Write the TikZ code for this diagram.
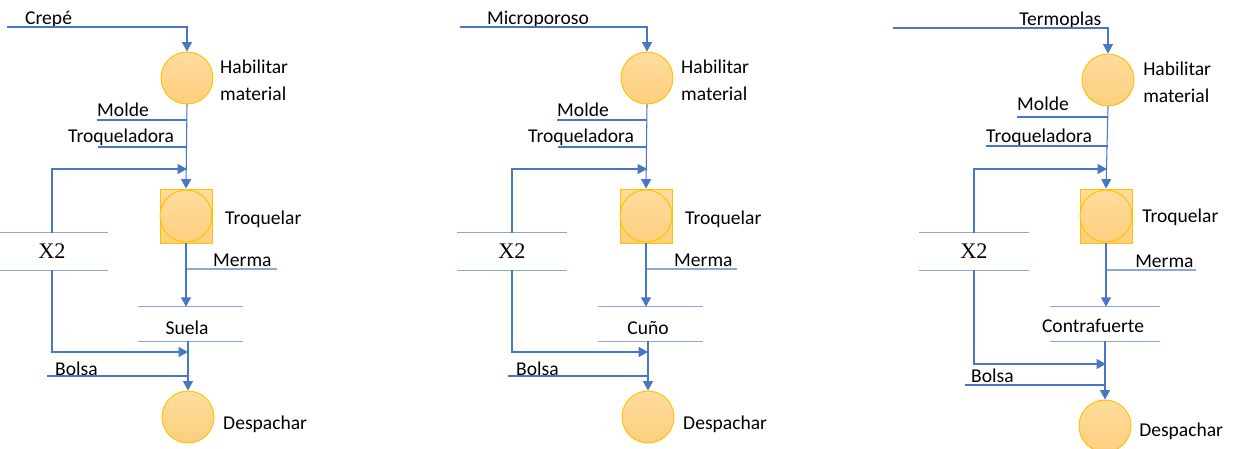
\documentclass[tikz,border=0pt]{standalone}
\usepackage{fontspec}
\setmainfont{Carlito}
\newfontfamily\serifx{Liberation Serif}
\usepackage{tikz}
\usetikzlibrary{arrows.meta,positioning}
\usepackage{xcolor}
\definecolor{flowblue}{HTML}{4A76C6}
\definecolor{barblue}{HTML}{8CA8DA}
\definecolor{opgold}{HTML}{FFC000}
\definecolor{optop}{HTML}{FFDC9C}
\definecolor{opbot}{HTML}{FDCF7F}

\begin{document}
\begin{tikzpicture}[x=0.03cm,y=-0.03cm,
        op/.style={circle,draw=opgold,thick,top color=optop,bottom color=opbot,minimum size=1.56cm,inner sep=0pt},
        opsq/.style={rectangle,draw=opgold,thick,top color=optop,bottom color=opbot,minimum width=1.56cm,minimum height=1.62cm,inner sep=0pt},
        lbl/.style={font=\fontsize{16.7}{23}\selectfont,inner sep=0pt,align=left},
        mult/.style={font=\serifx\fontsize{19}{22}\selectfont,inner sep=0pt,minimum height=1.11cm},
        prod/.style={inner sep=0pt,minimum height=1.02cm},
        flow/.style={draw=flowblue,line width=0.9pt},
        bar/.style={draw=barblue,line width=0.9pt},
        arrow/.style={flow,-{Triangle[width=8.5pt,length=8pt]}}
    ]
    \useasboundingbox (0,0) rectangle (1238,448);

    % --- Crepe -> Suela
    \coordinate (in1) at (7,27);
    \node[lbl,anchor=base west] (in1txt) at (25,24) {Crepé};
    \node[op] (hab1) at (187,78) {};
    \node[lbl,anchor=base west] (hab1txt) at (220,100) {Habilitar\\material};
    \coordinate (molde1) at (97,120);
    \node[lbl,anchor=base west] (molde1txt) at (97,116) {Molde};
    \coordinate (troqm1) at (98,147);
    \node[lbl,anchor=base west] (troqm1txt) at (68,142) {Troqueladora};
    \node[opsq] (troq1) at (186,216) {};
    \node[op] (troq1c) at (186,216) {};
    \node[lbl,anchor=base west] (troq1txt) at (225,224) {Troquelar};
    \node[mult,minimum width=3.36cm] (x2n1) at (52,251.5) {X2};
    \coordinate (fb1) at (187,169);
    \coordinate (merma1) at (277,269);
    \node[lbl,anchor=base west] (merma1txt) at (213,266) {Merma};
    \node[prod,minimum width=3.15cm] (suela1) at (190.5,324) {};
    \node[lbl,anchor=base] (suela1txt) at (187,334) {Suela};
    \coordinate (back1) at (188,352);
    \coordinate (bolsa1) at (47,376);
    \node[lbl,anchor=base west] (bolsa1txt) at (55,375) {Bolsa};
    \node[op] (desp1) at (188,417) {};
    \node[lbl,anchor=base west] (desp1txt) at (223,429) {Despachar};

    \draw[arrow] (in1) -| (hab1.north);
    \draw[arrow] (hab1.south) -- (troq1.north);
    \draw[flow] (molde1) -- (molde1 -| hab1);
    \draw[flow] (troqm1) -- (troqm1 -| hab1);
    \draw[bar] (x2n1.north west) -- (x2n1.north east) (x2n1.south west) -- (x2n1.south east);
    \draw[arrow] (x2n1.north) |- (fb1);
    \draw[bar] (troq1.south |- merma1) -- (merma1);
    \draw[arrow] (troq1.south) -- (troq1.south |- suela1.north);
    \draw[bar] (suela1.north west) -- (suela1.north east) (suela1.south west) -- (suela1.south east);
    \draw[arrow] (x2n1.south) |- (back1);
    \draw[flow] (bolsa1) -- (bolsa1 -| desp1);
    \draw[arrow] (suela1.south -| desp1) -- (desp1.north);

    % --- Microporoso -> Cuno
    \coordinate (in2) at (460,27);
    \node[lbl,anchor=base west] (in2txt) at (487,24) {Microporoso};
    \node[op] (hab2) at (647,78) {};
    \node[lbl,anchor=base west] (hab2txt) at (681,100) {Habilitar\\material};
    \coordinate (molde2) at (557,120);
    \node[lbl,anchor=base west] (molde2txt) at (557,116) {Molde};
    \coordinate (troqm2) at (558,147);
    \node[lbl,anchor=base west] (troqm2txt) at (528,142) {Troqueladora};
    \node[opsq] (troq2) at (646,216) {};
    \node[op] (troq2c) at (646,216) {};
    \node[lbl,anchor=base west] (troq2txt) at (685,224) {Troquelar};
    \node[mult,minimum width=3.27cm] (x2n2) at (512,251.5) {X2};
    \coordinate (fb2) at (647,169);
    \coordinate (merma2) at (737,269);
    \node[lbl,anchor=base west] (merma2txt) at (674,266) {Merma};
    \node[prod,minimum width=3.15cm] (cuno2) at (650.5,324) {};
    \node[lbl,anchor=base] (cuno2txt) at (648,334) {Cuño};
    \coordinate (back2) at (648,352);
    \coordinate (bolsa2) at (508,376);
    \node[lbl,anchor=base west] (bolsa2txt) at (516,375) {Bolsa};
    \node[op] (desp2) at (648,417) {};
    \node[lbl,anchor=base west] (desp2txt) at (683,429) {Despachar};

    \draw[arrow] (in2) -| (hab2.north);
    \draw[arrow] (hab2.south) -- (troq2.north);
    \draw[flow] (molde2) -- (molde2 -| hab2);
    \draw[flow] (troqm2) -- (troqm2 -| hab2);
    \draw[bar] (x2n2.north west) -- (x2n2.north east) (x2n2.south west) -- (x2n2.south east);
    \draw[arrow] (x2n2.north) |- (fb2);
    \draw[bar] (troq2.south |- merma2) -- (merma2);
    \draw[arrow] (troq2.south) -- (troq2.south |- cuno2.north);
    \draw[bar] (cuno2.north west) -- (cuno2.north east) (cuno2.south west) -- (cuno2.south east);
    \draw[arrow] (x2n2.south) |- (back2);
    \draw[flow] (bolsa2) -- (bolsa2 -| desp2);
    \draw[arrow] (cuno2.south -| desp2) -- (desp2.north);

    % --- Termoplas -> Contrafuerte
    \coordinate (in3) at (893,28);
    \node[lbl,anchor=base west] (in3txt) at (1019,25) {Termoplas};
    \node[op] (hab3) at (1108,80) {};
    \node[lbl,anchor=base west] (hab3txt) at (1143,102) {Habilitar\\material};
    \coordinate (molde3) at (1017,117);
    \node[lbl,anchor=base west] (molde3txt) at (1017,110) {Molde};
    \coordinate (troqm3) at (986,146);
    \node[lbl,anchor=base west] (troqm3txt) at (986,142) {Troqueladora};
    \node[opsq] (troq3) at (1106,216) {};
    \node[op] (troq3c) at (1106,216) {};
    \node[lbl,anchor=base west] (troq3txt) at (1142,222) {Troquelar};
    \node[mult,minimum width=3.3cm] (x2n3) at (974,251.5) {X2};
    \coordinate (fb3) at (1107,169);
    \coordinate (merma3) at (1196,270);
    \node[lbl,anchor=base west] (merma3txt) at (1135,267) {Merma};
    \node[prod,minimum width=3.3cm] (contra3) at (1105,324) {};
    \node[lbl,anchor=base] (contra3txt) at (1093,332) {Contrafuerte};
    \coordinate (back3) at (1106,364);
    \coordinate (bolsa3) at (965,385);
    \node[lbl,anchor=base west] (bolsa3txt) at (971,382) {Bolsa};
    \node[op] (desp3) at (1105,426) {};
    \node[lbl,anchor=base west] (desp3txt) at (1139,436) {Despachar};

    \draw[arrow] (in3) -| (hab3.north);
    \draw[arrow] (hab3.south) -- (troq3.north);
    \draw[flow] (molde3) -- (molde3 -| hab3);
    \draw[flow] (troqm3) -- (troqm3 -| hab3);
    \draw[bar] (x2n3.north west) -- (x2n3.north east) (x2n3.south west) -- (x2n3.south east);
    \draw[arrow] (x2n3.north) |- (fb3);
    \draw[bar] (troq3.south |- merma3) -- (merma3);
    \draw[arrow] (troq3.south) -- (troq3.south |- contra3.north);
    \draw[bar] (contra3.north west) -- (contra3.north east) (contra3.south west) -- (contra3.south east);
    \draw[arrow] (x2n3.south) |- (back3);
    \draw[flow] (bolsa3) -- (bolsa3 -| desp3);
    \draw[arrow] (contra3.south -| desp3) -- (desp3.north);
\end{tikzpicture}
\end{document}
